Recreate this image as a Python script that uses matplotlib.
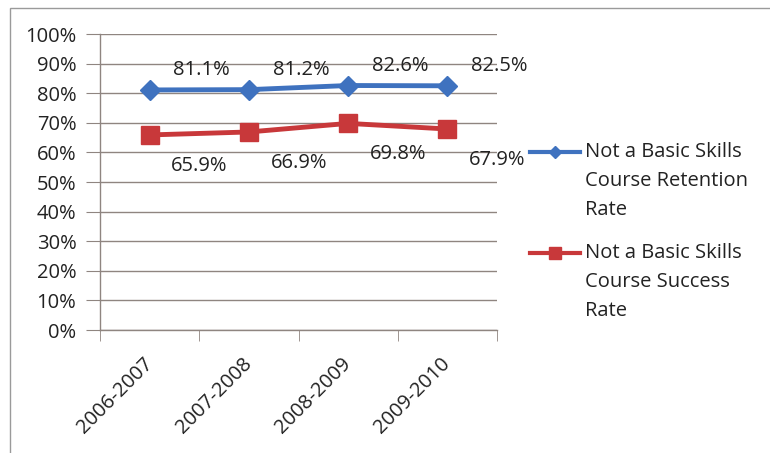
import matplotlib
matplotlib.use("Agg")
import matplotlib.pyplot as plt
from matplotlib.lines import Line2D
from matplotlib.patches import Rectangle
from matplotlib.ticker import PercentFormatter, FixedLocator

plt.rcParams['font.family'] = ['Open Sans', 'DejaVu Sans']

years = ["2006-2007", "2007-2008", "2008-2009", "2009-2010"]
retention = [81.1, 81.2, 82.6, 82.5]
success = [65.9, 66.9, 69.8, 67.9]
retention_label = "Not a Basic Skills\nCourse Retention\nRate"
success_label = "Not a Basic Skills\nCourse Success\nRate"

blue = "#3f72bf"
red = "#c8383a"
grid_col = "#8f8580"
text_col = "#222222"
fs = 14.5

W, H = 770, 453
fig = plt.figure(figsize=(W / 100, H / 100), dpi=100)
fig.patch.set_facecolor("white")

# chart-area frame
fig.add_artist(Rectangle((10 / W, -0.05), 1.2, (H - 8) / H + 0.05,
                         transform=fig.transFigure, fill=False,
                         edgecolor="#9a9a9a", linewidth=1.0))

ax = fig.add_axes([100 / W, 123 / H, 397 / W, 296 / H])
x = list(range(len(years)))

ax.set_xlim(-0.5, len(years) - 0.5)
ax.set_ylim(0, 100)
ax.yaxis.set_major_locator(FixedLocator(range(0, 101, 10)))
ax.yaxis.set_major_formatter(PercentFormatter(decimals=0))
ax.grid(axis="y", color=grid_col, linewidth=1.0)
ax.set_axisbelow(True)

for s in ["top", "right"]:
    ax.spines[s].set_visible(False)
for s in ["left", "bottom"]:
    ax.spines[s].set_color(grid_col)
    ax.spines[s].set_linewidth(1.0)

ax.tick_params(axis="y", length=10, color=grid_col, labelsize=fs,
               labelcolor=text_col, pad=7)
ax.set_xticks(x)
ax.set_xticklabels(years, rotation=45, ha="right", va="center",
                   rotation_mode="anchor", fontsize=fs, color=text_col)
ax.tick_params(axis="x", which="major", length=0, pad=22)
ax.set_xticks([i - 0.5 for i in range(len(years) + 1)], minor=True)
ax.tick_params(axis="x", which="minor", length=8, color=grid_col)

ax.plot(x, retention, color=blue, linewidth=3.5, marker="D",
        markersize=10, zorder=3, clip_on=False)
ax.plot(x, success, color=red, linewidth=3.5, marker="s",
        markersize=13, zorder=3, clip_on=False)

for xi, v in zip(x, retention):
    ax.annotate(f"{v:.1f}%", (xi, v), xytext=(52, 20), textcoords="offset pixels",
                ha="center", va="center", fontsize=fs, color=text_col)
for xi, v in zip(x, success):
    ax.annotate(f"{v:.1f}%", (xi, v), xytext=(50, -31), textcoords="offset pixels",
                ha="center", va="center", fontsize=fs, color=text_col)

# legend
def legend_entry(y_px, color, marker, ms, label):
    yf = 1 - y_px / H
    fig.add_artist(Line2D([530 / W, 580 / W], [yf, yf], transform=fig.transFigure,
                          color=color, linewidth=3))
    fig.add_artist(Line2D([555 / W], [yf], transform=fig.transFigure,
                          color=color, marker=marker, markersize=ms, linestyle="none"))
    fig.text(585 / W, yf + 10 / H, label, transform=fig.transFigure, ha="left", va="top",
             fontsize=fs, color=text_col, linespacing=1.6)

legend_entry(152, blue, "D", 6, retention_label)
legend_entry(253, red, "s", 9, success_label)

fig.savefig("out.png", dpi=100, facecolor="white")
